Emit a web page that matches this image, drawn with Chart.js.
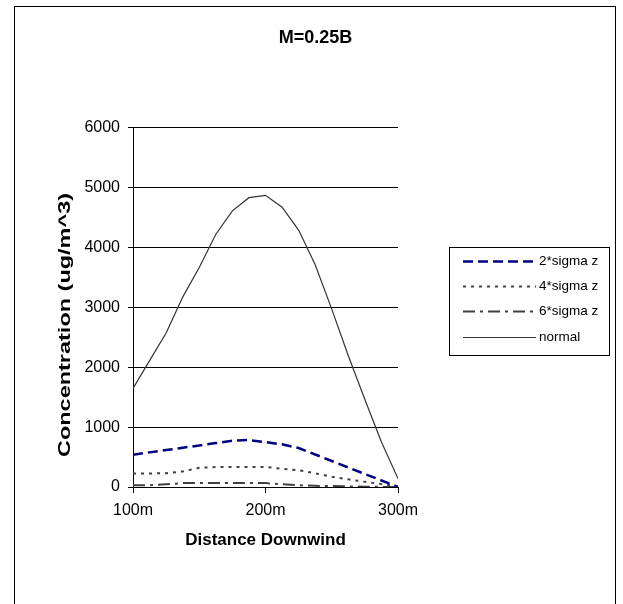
<!DOCTYPE html>
<html>
<head>
<meta charset="utf-8">
<script src="https://cdn.jsdelivr.net/npm/chart.js@4/dist/chart.umd.min.js"></script>
<style>
  html, body { margin: 0; padding: 0; background: #fff; }
  #wrap { width: 623px; height: 604px; position: relative; }
</style>
</head>
<body>
<div id="wrap"><canvas id="chart"></canvas></div>
<script>
// distancia (m) e concentracoes
const distances = [100, 112.5, 125, 137.5, 150, 162.5, 175, 187.5, 200, 212.5, 225, 237.5, 250, 262.5, 275, 287.5, 300];
const sigma2 = [540, 578, 617, 655, 694, 733, 772, 784, 749, 712, 651, 543, 434, 326, 217, 109, 0];
const sigma4 = [224, 226, 230, 260, 320, 334, 334, 334, 334, 305, 280, 228, 172, 128, 86, 48, 12];
const sigma6 = [28, 30, 45, 65, 67, 67, 67, 67, 65, 45, 28, 20, 15, 10, 5, 2, 0];
const normal = [1645, 2110, 2570, 3170, 3665, 4220, 4611, 4830, 4869, 4670, 4290, 3710, 2970, 2190, 1460, 750, 140];
const seriesLabels = ['2*sigma z', '4*sigma z', '6*sigma z', 'normal'];
const yTicks = [0, 1000, 2000, 3000, 4000, 5000, 6000];
const xTicks = [100, 200, 300];

const FONT = '"Liberation Sans", Arial, sans-serif';

function pontos(valores) {
    return distances.map((d, i) => ({ x: d, y: valores[i] }));
}

// moldura, titulo do eixo y e legenda
const extras = {
    id: 'extras',
    afterDraw(chart) {
        const ctx = chart.ctx;
        ctx.save();
        ctx.strokeStyle = '#000';
        ctx.lineWidth = 1;
        ctx.setLineDash([]);
        ctx.strokeRect(14.5, 6.5, 601, 700);

        // titulo do eixo y (esticado como no Excel)
        const yTitle = 'Concentration (ug/m^3)';
        ctx.font = 'bold 17px ' + FONT;
        ctx.fillStyle = '#000';
        ctx.textAlign = 'center';
        ctx.textBaseline = 'middle';
        const w = ctx.measureText(yTitle).width;
        ctx.save();
        ctx.translate(65, 325);
        ctx.rotate(-Math.PI / 2);
        ctx.scale(264 / w, 1);
        ctx.fillText(yTitle, 0, 0);
        ctx.restore();

        // legenda
        ctx.strokeRect(449.5, 247.5, 160, 108);
        ctx.font = '13.5px ' + FONT;
        ctx.textAlign = 'left';
        chart.data.datasets.forEach((ds, i) => {
            const y = Math.round(261 + i * 25.2) + 0.5;
            ctx.beginPath();
            ctx.setLineDash(ds.borderDash || []);
            ctx.lineWidth = ds.borderWidth;
            ctx.strokeStyle = ds.borderColor;
            ctx.moveTo(463, y);
            ctx.lineTo(536, y);
            ctx.stroke();
            ctx.fillStyle = '#000';
            ctx.fillText(ds.label, 539, y);
        });
        ctx.restore();
    }
};

const ctx = document.getElementById('chart').getContext('2d');
const chart = new Chart(ctx, {
    type: 'line',
    data: {
        datasets: [
            { label: seriesLabels[0], data: pontos(sigma2), borderColor: '#000080', borderWidth: 2.5, borderDash: [10, 5] },
            { label: seriesLabels[1], data: pontos(sigma4), borderColor: '#404040', borderWidth: 2, borderDash: [3, 5] },
            { label: seriesLabels[2], data: pontos(sigma6), borderColor: '#404040', borderWidth: 2, borderDash: [12, 5, 3, 5] },
            { label: seriesLabels[3], data: pontos(normal), borderColor: '#333333', borderWidth: 1.2, borderDash: [] }
        ]
    },
    options: {
        responsive: true,
        maintainAspectRatio: false,
        animation: false,
        layout: { padding: { left: 8, right: 0, top: 0, bottom: 0 } },
        elements: {
            point: { radius: 0 },
            line: { tension: 0, fill: false, backgroundColor: 'transparent' }
        },
        plugins: {
            legend: { display: false },
            tooltip: { enabled: false },
            title: {
                display: true,
                text: 'M=0.25B',
                color: '#000',
                font: { family: FONT, size: 18, weight: 'bold' },
                padding: { top: 27, bottom: 79 }
            }
        },
        scales: {
            x: {
                type: 'linear',
                min: 100,
                max: 300,
                afterBuildTicks: (s) => { s.ticks = xTicks.map(v => ({ value: v })); },
                afterFit: (s) => { s.height = 117; },
                ticks: {
                    color: '#000',
                    font: { family: FONT, size: 16 },
                    padding: 8,
                    maxRotation: 0,
                    callback: (v) => v + 'm'
                },
                grid: { display: true, drawOnChartArea: false, color: '#000', tickLength: 6 },
                border: { display: true, color: '#000', width: 1 },
                title: {
                    display: true,
                    text: 'Distance Downwind',
                    color: '#000',
                    font: { family: FONT, size: 17, weight: 'bold' },
                    padding: { top: 0, bottom: 53 }
                }
            },
            y: {
                min: 0,
                max: 6000,
                afterBuildTicks: (s) => { s.ticks = yTicks.map(v => ({ value: v })); },
                afterFit: (s) => { s.width = 125; },
                ticks: {
                    color: '#000',
                    font: { family: FONT, size: 16 },
                    padding: 8,
                    callback: (v) => String(v)
                },
                grid: { color: '#000', lineWidth: 1, tickLength: 5 },
                border: { display: true, color: '#000', width: 1 }
            },
            espaco: {
                type: 'linear',
                position: 'right',
                display: true,
                afterFit: (s) => { s.width = 225; },
                ticks: { display: false },
                grid: { display: false },
                border: { display: false }
            }
        }
    },
    plugins: [extras]
});
</script>
</body>
</html>
